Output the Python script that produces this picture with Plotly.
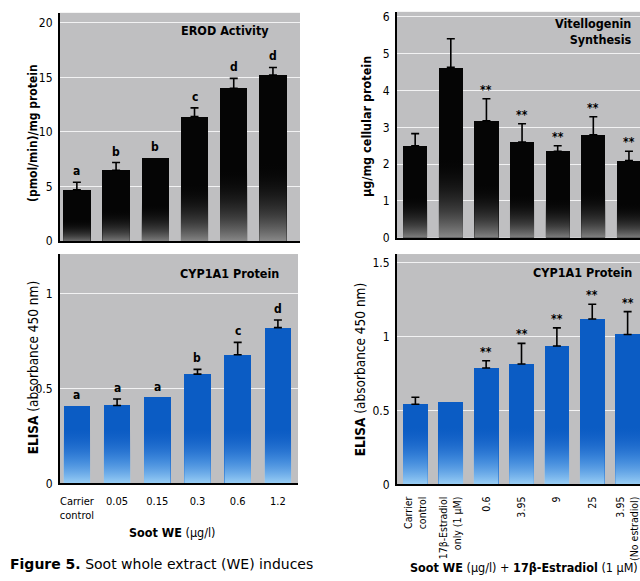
import plotly.graph_objects as go

# ---- data -------------------------------------------------------------
soot_cats = ["Carrier<br>control", "0.05", "0.15", "0.3", "0.6", "1.2"]

erod_mean = [4.7, 6.5, 7.6, 11.4, 14.0, 15.2]
erod_err = [0.7, 0.7, 0.0, 0.8, 0.9, 0.7]
erod_sig = ["a", "b", "b", "c", "d", "d"]

cyp_soot_mean = [0.405, 0.41, 0.452, 0.575, 0.677, 0.82]
cyp_soot_err = [0.0, 0.034, 0.0, 0.025, 0.065, 0.04]
cyp_soot_sig = ["a", "a", "a", "b", "c", "d"]

mix_cats = ["Carrier<br>control", "17β-Estradiol<br>only (1 µM)", "0.6", "3.95",
            "9", "25", "3.95<br>(No estradiol)"]

vtg_mean = [2.5, 4.63, 3.18, 2.6, 2.35, 2.8, 2.1]
vtg_err = [0.33, 0.78, 0.6, 0.5, 0.15, 0.49, 0.25]
vtg_sig = ["", "", "**", "**", "**", "**", "**"]

cyp_mix_mean = [0.543, 0.557, 0.788, 0.815, 0.937, 1.12, 1.015]
cyp_mix_err = [0.047, 0.0, 0.049, 0.14, 0.123, 0.1, 0.155]
cyp_mix_sig = ["", "", "**", "**", "**", "**", "**"]

# ---- styling ----------------------------------------------------------
NARROW = "DejaVu Sans Condensed, Liberation Sans Narrow, Arial Narrow, sans-serif"
BG = "#bfbfc1"
W, H = 640, 581

fig = go.Figure()


def px_x(p):
    return p / W


def px_y(p):
    return 1 - p / H


def add_panel(n, means, errs, sigs, width, style, fade_stop, sig_shift):
    xa = "x" if n == 1 else f"x{n}"
    ya = "y" if n == 1 else f"y{n}"
    xs = list(range(len(means)))
    base_color = "#050505" if style == "black" else "#0b5cc4"
    fig.add_trace(go.Bar(
        x=xs, y=means, width=width, xaxis=xa, yaxis=ya,
        marker=dict(color=base_color, line=dict(width=0)),
        showlegend=False, hoverinfo="skip",
    ))
    # bottom fade of each bar
    for x, m in zip(xs, means):
        if style == "black":
            stop = 0.5 * m
            cs = [[0, "rgba(150,150,150,1)"], [0.35, "rgba(80,80,80,0.75)"],
                  [1, "rgba(0,0,0,0)"]]
        else:
            stop = min(fade_stop, m)
            cs = [[0, "rgba(172,220,250,1)"], [0.5, "rgba(90,160,232,0.6)"],
                  [1, "rgba(40,110,210,0)"]]
        x0, x1 = x - width / 2, x + width / 2
        fig.add_trace(go.Scatter(
            x=[x0, x1, x1, x0, x0], y=[0, 0, stop, stop, 0],
            xaxis=xa, yaxis=ya, mode="lines", fill="toself",
            line=dict(width=0),
            fillgradient=dict(type="vertical", colorscale=cs, start=0, stop=stop),
            showlegend=False, hoverinfo="skip",
        ))
    # upper error bars, only where an error was reported
    ex = [x for x, e in zip(xs, errs) if e > 0]
    ey = [m for m, e in zip(means, errs) if e > 0]
    ee = [e for e in errs if e > 0]
    fig.add_trace(go.Scatter(
        x=ex, y=ey, xaxis=xa, yaxis=ya, mode="markers",
        marker=dict(size=1, opacity=0),
        error_y=dict(type="data", array=ee, arrayminus=[0] * len(ee),
                     symmetric=False, color="black", thickness=1.6, width=4),
        showlegend=False, hoverinfo="skip",
    ))
    # significance marks
    for x, m, e, s in zip(xs, means, errs, sigs):
        if s:
            fig.add_annotation(x=x, y=m + e, xref=xa, yref=ya, text=f"<b>{s}</b>",
                               showarrow=False, yanchor="bottom", yshift=sig_shift,
                               font=dict(family=NARROW, size=12, color="black"))


add_panel(1, erod_mean, erod_err, erod_sig, 0.7, "black", None, 2)
add_panel(2, cyp_soot_mean, cyp_soot_err, cyp_soot_sig, 0.66, "blue", 0.3, 2)
add_panel(3, vtg_mean, vtg_err, vtg_sig, 0.68, "black", None, 0)
add_panel(4, cyp_mix_mean, cyp_mix_err, cyp_mix_sig, 0.7, "blue", 0.4, 0)


def yaxis(top, bottom, rng, dtick, anchor):
    return dict(domain=[px_y(bottom), px_y(top)], range=rng, dtick=dtick, tick0=0,
                showgrid=True, gridcolor="rgba(255,255,255,0.8)", gridwidth=1,
                zeroline=False, showline=True, linecolor="black", linewidth=2,
                ticks="outside", ticklen=3, tickcolor="rgba(0,0,0,0)",
                tickfont=dict(family=NARROW, size=12, color="black"),
                anchor=anchor, fixedrange=True)


def xaxis(left, right, rng, cats, anchor, labels, angle=0, size=11):
    return dict(domain=[px_x(left), px_x(right)], range=rng,
                tickvals=list(range(len(cats))), ticktext=cats,
                showticklabels=labels, tickangle=angle, ticklabeloverflow="allow",
                showgrid=False, zeroline=False, showline=True, linecolor="black",
                linewidth=2, ticks="outside", ticklen=6, tickcolor="rgba(0,0,0,0)",
                tickfont=dict(family=NARROW, size=size, color="black"),
                anchor=anchor, fixedrange=True)


fig.update_layout(
    width=W, height=H, margin=dict(l=0, r=0, t=0, b=0),
    paper_bgcolor="white", plot_bgcolor=BG, bargap=0,
    xaxis=xaxis(60, 300, [-0.43, 5.69], soot_cats, "y", False),
    yaxis=yaxis(11, 243, [0, 20.9], 5, "x"),
    xaxis2=xaxis(60, 298, [-0.42, 5.5], soot_cats, "y2", True),
    yaxis2=yaxis(256, 489, [0, 1.207], 0.5, "x2"),
    xaxis3=xaxis(397, 640, [-0.51, 6.31], mix_cats, "y3", False),
    yaxis3=yaxis(10, 239.5, [0, 6.14], 1, "x3"),
    xaxis4=xaxis(397, 640, [-0.52, 6.35], mix_cats, "y4", True, -90, 10.5),
    yaxis4=yaxis(256, 490, [0, 1.56], 0.5, "x4"),
)

# panel titles
title_font = dict(family=NARROW, size=12.5, color="black")
fig.add_annotation(x=px_x(271), y=px_y(29), xref="paper", yref="paper",
                   text="<b>EROD Activity</b>", showarrow=False,
                   xanchor="right", yanchor="middle", font=title_font)
fig.add_annotation(x=px_x(281), y=px_y(276), xref="paper", yref="paper",
                   text="<b>CYP1A1 Protein</b>", showarrow=False,
                   xanchor="right", yanchor="middle", font=title_font)
fig.add_annotation(x=px_x(634), y=px_y(30), xref="paper", yref="paper",
                   text="<b>Vitellogenin<br>Synthesis</b>", showarrow=False,
                   xanchor="right", yanchor="middle", align="right", font=title_font)
fig.add_annotation(x=px_x(634), y=px_y(275), xref="paper", yref="paper",
                   text="<b>CYP1A1 Protein</b>", showarrow=False,
                   xanchor="right", yanchor="middle", font=title_font)

# axis titles
for xp, yp, txt, sz in [
    (33, 133, "<b>(pmol/min)/mg protein</b>", 12),
    (33, 372, "<b>ELISA</b> (absorbance 450 nm)", 13.5),
    (366, 127, "<b>µg/mg cellular protein</b>", 12.5),
    (360, 374, "<b>ELISA</b> (absorbance 450 nm)", 13.5),
]:
    fig.add_annotation(x=px_x(xp), y=px_y(yp), xref="paper", yref="paper",
                       text=txt, textangle=-90, showarrow=False,
                       xanchor="center", yanchor="middle",
                       font=dict(family=NARROW, size=sz, color="black"))

fig.add_annotation(x=px_x(172), y=px_y(539), xref="paper", yref="paper",
                   text="<b>Soot WE</b> (µg/l)", showarrow=False,
                   xanchor="center", yanchor="middle",
                   font=dict(family=NARROW, size=12.5, color="black"))
fig.add_annotation(x=px_x(524), y=px_y(574), xref="paper", yref="paper",
                   text="<b>Soot WE</b> (µg/l) + <b>17β-Estradiol</b> (1 µM)",
                   showarrow=False, xanchor="center", yanchor="middle",
                   font=dict(family=NARROW, size=12.5, color="black"))

# caption
fig.add_annotation(x=px_x(8), y=px_y(571), xref="paper", yref="paper",
                   text="<b>Figure 5.</b> Soot whole extract (WE) induces",
                   showarrow=False, xanchor="left", yanchor="middle",
                   font=dict(family="DejaVu Sans", size=14, color="black"))

fig.write_html("out.html")
